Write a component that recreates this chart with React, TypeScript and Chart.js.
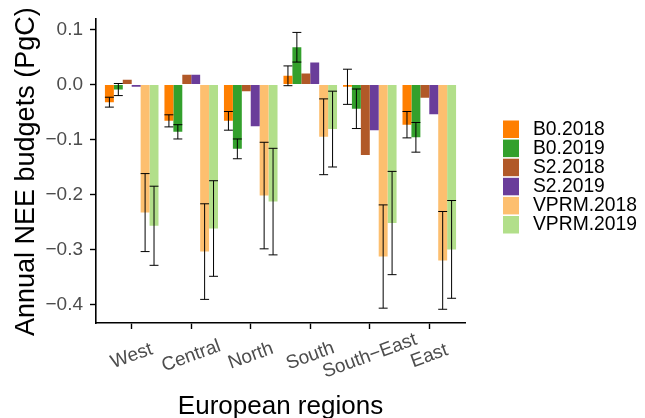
import React, { useEffect, useRef } from "react";
import { Chart, registerables } from "chart.js";

Chart.register(...registerables);

const regions = ["West", "Central", "North", "South", "South\u2212East", "East"];
const yTicks = [-0.4, -0.3, -0.2, -0.1, 0, 0.1];

const seriesNames = ["B0.2018", "B0.2019", "S2.2018", "S2.2019", "VPRM.2018", "VPRM.2019"];
const seriesColors = ["#FF7F00", "#33A02C", "#B15928", "#6A3D9A", "#FDBF6F", "#B2DF8A"];

const b0_2018 = [-0.032, -0.066, -0.066, 0.016, -0.004, -0.073];
const b0_2018Err = [0.009, 0.011, 0.017, 0.018, 0.032, 0.024];
const b0_2019 = [-0.009, -0.086, -0.117, 0.068, -0.044, -0.096];
const b0_2019Err = [0.011, 0.013, 0.018, 0.027, 0.036, 0.027];
const s2_2018 = [0.009, 0.018, -0.012, 0.02, -0.128, -0.024];
const s2_2019 = [-0.004, 0.018, -0.076, 0.04, -0.083, -0.054];
const vprm_2018 = [-0.233, -0.304, -0.202, -0.095, -0.313, -0.32];
const vprm_2018Err = [0.071, 0.087, 0.097, 0.069, 0.094, 0.089];
const vprm_2019 = [-0.257, -0.262, -0.213, -0.081, -0.252, -0.3];
const vprm_2019Err = [0.072, 0.087, 0.097, 0.069, 0.094, 0.089];

const seriesValues = [b0_2018, b0_2019, s2_2018, s2_2019, vprm_2018, vprm_2019];
const seriesErrors = [b0_2018Err, b0_2019Err, null, null, vprm_2018Err, vprm_2019Err];

const FONT = "'Liberation Sans', Arial, Helvetica, sans-serif";

const errorBarPlugin = {
  id: "errorBars",
  afterDatasetsDraw(chart: any) {
    const ctx = chart.ctx;
    const y = chart.scales.y;
    ctx.save();
    ctx.strokeStyle = "#000000";
    ctx.lineWidth = 1;
    chart.data.datasets.forEach((ds: any, di: number) => {
      const errs = seriesErrors[di];
      if (!errs) return;
      const meta = chart.getDatasetMeta(di);
      meta.data.forEach((bar: any, i: number) => {
        const v = ds.data[i];
        const e = errs[i];
        const x = bar.x;
        const half = bar.width / 2;
        const yTop = y.getPixelForValue(v + e);
        const yBot = y.getPixelForValue(v - e);
        ctx.beginPath();
        ctx.moveTo(x, yTop);
        ctx.lineTo(x, yBot);
        ctx.moveTo(x - half, yTop);
        ctx.lineTo(x + half, yTop);
        ctx.moveTo(x - half, yBot);
        ctx.lineTo(x + half, yBot);
        ctx.stroke();
      });
    });
    ctx.restore();
  },
};

const textPlugin = {
  id: "customText",
  afterDraw(chart: any) {
    const ctx = chart.ctx;
    const xs = chart.scales.x;
    const area = chart.chartArea;
    ctx.save();
    // x tick labels, rotated
    ctx.fillStyle = "#4D4D4D";
    ctx.font = `19px ${FONT}`;
    ctx.textAlign = "center";
    ctx.textBaseline = "middle";
    regions.forEach((lab, i) => {
      const px = xs.getPixelForValue(i);
      ctx.save();
      ctx.translate(px, 356);
      ctx.rotate((-20 * Math.PI) / 180);
      ctx.fillText(lab, 0, 0);
      ctx.restore();
    });
    // axis titles
    ctx.fillStyle = "#000000";
    ctx.font = `26px ${FONT}`;
    ctx.textAlign = "center";
    ctx.textBaseline = "alphabetic";
    ctx.fillText("European regions", (area.left + area.right) / 2, 413.5);
    ctx.save();
    ctx.font = `27px ${FONT}`;
    ctx.translate(33.5, (area.top + area.bottom) / 2 + 1);
    ctx.rotate(-Math.PI / 2);
    ctx.fillText("Annual NEE budgets (PgC)", 0, 0);
    ctx.restore();
    // legend
    ctx.font = `19.3px ${FONT}`;
    ctx.textAlign = "left";
    ctx.textBaseline = "middle";
    seriesNames.forEach((name, i) => {
      const top = 120.5 + i * 19.1;
      ctx.fillStyle = seriesColors[i];
      ctx.fillRect(503, top, 16, 17.5);
      ctx.fillStyle = "#000000";
      ctx.fillText(name, 533, top + 9);
    });
    ctx.restore();
  },
};

export default function App() {
  const ref = useRef<HTMLCanvasElement | null>(null);
  useEffect(() => {
    document.body.style.margin = "0";
    const canvas = ref.current;
    if (!canvas) return;
    const chart = new Chart(canvas, {
      type: "bar",
      data: {
        labels: regions,
        datasets: seriesNames.map((name, i) => ({
          label: name,
          data: seriesValues[i],
          backgroundColor: seriesColors[i],
          borderWidth: 0,
          categoryPercentage: 0.9,
          barPercentage: 1.0,
        })),
      },
      options: {
        responsive: false,
        animation: false,
        devicePixelRatio: 1,
        layout: { padding: { top: 18, right: 180, left: 0, bottom: 0 } },
        plugins: {
          legend: { display: false },
          tooltip: { enabled: false },
          title: { display: false },
        },
        scales: {
          x: {
            type: "category",
            offset: true,
            afterBuildTicks: (axis: any) => {
              axis._startValue = -0.6;
              axis._valueRange = regions.length - 1 + 1.2;
            },
            afterFit: (axis: any) => {
              axis.height = 418 - 323;
            },
            ticks: { display: false },
            grid: {
              offset: false,
              drawOnChartArea: false,
              drawTicks: true,
              tickLength: 6,
              tickWidth: 1.4,
              color: "#000000",
            },
            border: { display: true, color: "#000000", width: 1.6 },
            title: { display: false },
          },
          y: {
            type: "linear",
            min: -0.434,
            max: 0.1205,
            afterBuildTicks: (axis: any) => {
              axis.ticks = yTicks.map((v) => ({ value: v }));
            },
            afterFit: (axis: any) => {
              axis.width = 96;
            },
            ticks: {
              color: "#4D4D4D",
              font: { family: FONT, size: 19 },
              padding: 7,
              callback: (v: any) => {
                const n = Number(v);
                if (Math.abs(n) < 1e-9) return "0.0";
                return (n < 0 ? "\u2212" : "") + Math.abs(n).toFixed(1);
              },
            },
            grid: {
              drawOnChartArea: false,
              drawTicks: true,
              tickLength: 6,
              tickWidth: 1.4,
              color: "#000000",
            },
            border: { display: true, color: "#000000", width: 1.6 },
            title: { display: false },
          },
        },
      },
      plugins: [errorBarPlugin, textPlugin],
    });
    return () => chart.destroy();
  }, []);
  return (
    <div style={{ position: "fixed", left: 0, top: 0, width: 645, height: 418, background: "#ffffff" }}>
      <canvas ref={ref} width={645} height={418} style={{ display: "block" }} />
    </div>
  );
}
